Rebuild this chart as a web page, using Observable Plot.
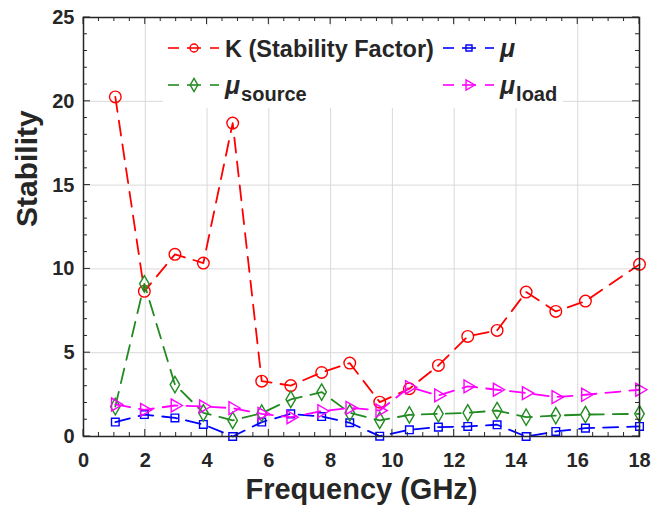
<!DOCTYPE html>
<html><head><meta charset="utf-8">
<script src="https://cdn.jsdelivr.net/npm/d3@7"></script>
<script src="https://cdn.jsdelivr.net/npm/@observablehq/plot@0.6"></script>
<style>
body{margin:0;background:#fff}
#chart{width:654px;height:513px}
</style>
</head><body><div id="chart"></div>
<script>
// ---- data ----
const freq      = [1.03, 1.97, 2.96, 3.88, 4.83, 5.77, 6.71, 7.71, 8.62, 9.59, 10.55, 11.49, 12.44, 13.39, 14.33, 15.29, 16.25, 18.0];
const kFactor   = [20.26, 8.66, 10.87, 10.35, 18.7, 3.3, 3.04, 3.82, 4.38, 2.05, 2.85, 4.24, 5.97, 6.33, 8.62, 7.46, 8.08, 10.27];
const mu        = [0.86, 1.31, 1.11, 0.72, 0.0, 0.86, 1.35, 1.19, 0.82, 0.02, 0.4, 0.56, 0.6, 0.7, 0.0, 0.3, 0.5, 0.6];
const muSource  = [1.79, 9.11, 3.1, 1.41, 0.96, 1.39, 2.21, 2.65, 1.41, 0.96, 1.29, 1.35, 1.41, 1.55, 1.15, 1.25, 1.31, 1.35];
const muLoad    = [1.91, 1.59, 1.85, 1.79, 1.69, 1.35, 1.15, 1.51, 1.71, 1.55, 2.94, 2.45, 2.99, 2.79, 2.59, 2.35, 2.49, 2.79];

const xTicks = [0, 2, 4, 6, 8, 10, 12, 14, 16, 18];
const yTicks = [0, 5, 10, 15, 20, 25];
const xTickLabels = ["0", "2", "4", "6", "8", "10", "12", "14", "16", "18"];
const yTickLabels = ["0", "5", "10", "15", "20", "25"];
const xMinor = d3.range(0, 18.001, 0.5);
const yMinor = d3.range(0, 25.001, 1);

const xTitle = "Frequency (GHz)";
const yTitle = "Stability";

const seriesNames   = ["K (Stability Factor)", "μ", "μ", "μ"];
const seriesSubs    = [null, null, "source", "load"];
const seriesValues  = [kFactor, mu, muSource, muLoad];
const seriesColors  = ["#ff0000", "#0000ff", "#228b22", "#ff00ff"];
const seriesSymbols = ["circle", "square", "diamond", "triangle"];
const seriesRadius  = [5.8, 4.3, 5.0, 4.8];
const seriesRotate  = [0, 0, 0, 90];

const INK = "#262626";
const FONT = "'Liberation Sans', Arial, sans-serif";
const dash = "15,9";

const marks = [
  Plot.gridX(xTicks.filter(v => v > 0 && v < 18), {stroke: "#d9d9d9", strokeOpacity: 1, strokeWidth: 1}),
  Plot.gridY(yTicks.filter(v => v > 0 && v < 25), {stroke: "#d9d9d9", strokeOpacity: 1, strokeWidth: 1}),
];

seriesValues.forEach((vals, s) => {
  const rows = freq.map((f, i) => ({f, v: vals[i]}));
  marks.push(Plot.line(rows, {x: "f", y: "v", stroke: seriesColors[s], strokeWidth: 1.8, strokeDasharray: dash}));
  marks.push(Plot.dot(rows, {x: "f", y: "v", stroke: seriesColors[s], fill: "none", strokeWidth: 1.4,
    symbol: seriesSymbols[s], r: seriesRadius[s], rotate: seriesRotate[s]}));
});

marks.push(
  Plot.axisX(xTicks, {anchor: "bottom", tickSize: 0, tickPadding: 16, tickFormat: (d) => xTickLabels[xTicks.indexOf(d)],
    label: null, fontSize: 20, fontWeight: "bold", fill: INK}),
  Plot.axisY(yTicks, {anchor: "left", tickSize: 0, tickPadding: 9, tickFormat: (d) => yTickLabels[yTicks.indexOf(d)],
    label: null, fontSize: 20, fontWeight: "bold", fill: INK}),
  Plot.frame({stroke: INK, strokeWidth: 1.5}),
  Plot.text([xTitle], {frameAnchor: "bottom", text: d => d, dy: 62, fontSize: 29, fontWeight: "bold", fill: INK}),
  Plot.text([yTitle], {frameAnchor: "left", text: d => d, dx: -56, rotate: -90, fontSize: 30, fontWeight: "bold", fill: INK})
);

const chart = Plot.plot({
  width: 654,
  height: 513,
  marginLeft: 83,
  marginRight: 15,
  marginTop: 17,
  marginBottom: 77,
  x: {domain: [0, 18], axis: null},
  y: {domain: [0, 25], axis: null},
  style: {fontFamily: FONT, color: INK, background: "white", overflow: "visible"},
  marks
});
document.getElementById("chart").appendChild(chart);

const svg = d3.select(chart);
const sx = chart.scale("x"), sy = chart.scale("y");
const [x0, x1] = sx.range, [y0, y1] = sy.range; // y0 bottom, y1 top

// ---- inner ticks on all four sides, placed through the plot's scales ----
const tg = svg.append("g").attr("stroke", INK).attr("stroke-width", 1);
const isMajorX = v => xTicks.includes(v), isMajorY = v => yTicks.includes(v);
xMinor.forEach(v => {
  const px = sx.apply(v), L = isMajorX(v) ? 7 : 4;
  tg.append("line").attr("x1", px).attr("x2", px).attr("y1", y0).attr("y2", y0 - L);
  tg.append("line").attr("x1", px).attr("x2", px).attr("y1", y1).attr("y2", y1 + L);
});
yMinor.forEach(v => {
  const py = sy.apply(v), L = isMajorY(v) ? 7 : 4;
  tg.append("line").attr("y1", py).attr("y2", py).attr("x1", x0).attr("x2", x0 + L);
  tg.append("line").attr("y1", py).attr("y2", py).attr("x1", x1).attr("x2", x1 - L);
});

// ---- legend (inside the plot area, top) ----
const lg = svg.append("g").attr("font-family", FONT).attr("font-weight", "bold").attr("fill", INK)
  .attr("text-anchor", "start");
lg.append("rect").attr("x", 163).attr("y", y1 + 9).attr("width", 400).attr("height", 82).attr("fill", "white");
const legendPos = [[168, 48], [443, 48], [168, 85], [443, 85]];
const legendR = [4, 3.4, 4, 3.8];
seriesNames.forEach((name, s) => {
  const [lx, ly] = legendPos[s];
  const c = seriesColors[s];
  const item = lg.append("g").attr("transform", `translate(${lx},${ly})`);
  [[0, 11], [19, 33], [42, 51]].forEach(([a, b]) =>
    item.append("line").attr("x1", a).attr("x2", b).attr("y1", 0).attr("y2", 0)
      .attr("stroke", c).attr("stroke-width", 1.6));
  const sym = d3.symbol().type({circle: d3.symbolCircle, square: d3.symbolSquare, diamond: d3.symbolDiamond, triangle: d3.symbolTriangle}[seriesSymbols[s]])
    .size(Math.PI * legendR[s] * legendR[s]);
  item.append("path").attr("d", sym()).attr("transform", `translate(26,0) rotate(${seriesRotate[s]})`)
    .attr("fill", "none").attr("stroke", c).attr("stroke-width", 1.4);
  const t = item.append("text").attr("x", 57).attr("y", 9);
  if (seriesSubs[s] == null && name !== "μ") {
    t.attr("font-size", 23.5).text(name);
  } else {
    t.append("tspan").attr("font-size", 25).attr("font-style", "italic").text(name);
    if (seriesSubs[s]) t.append("tspan").attr("font-size", 20).attr("dy", 7).attr("dx", 1).text(seriesSubs[s]);
  }
});
</script>
</body></html>
